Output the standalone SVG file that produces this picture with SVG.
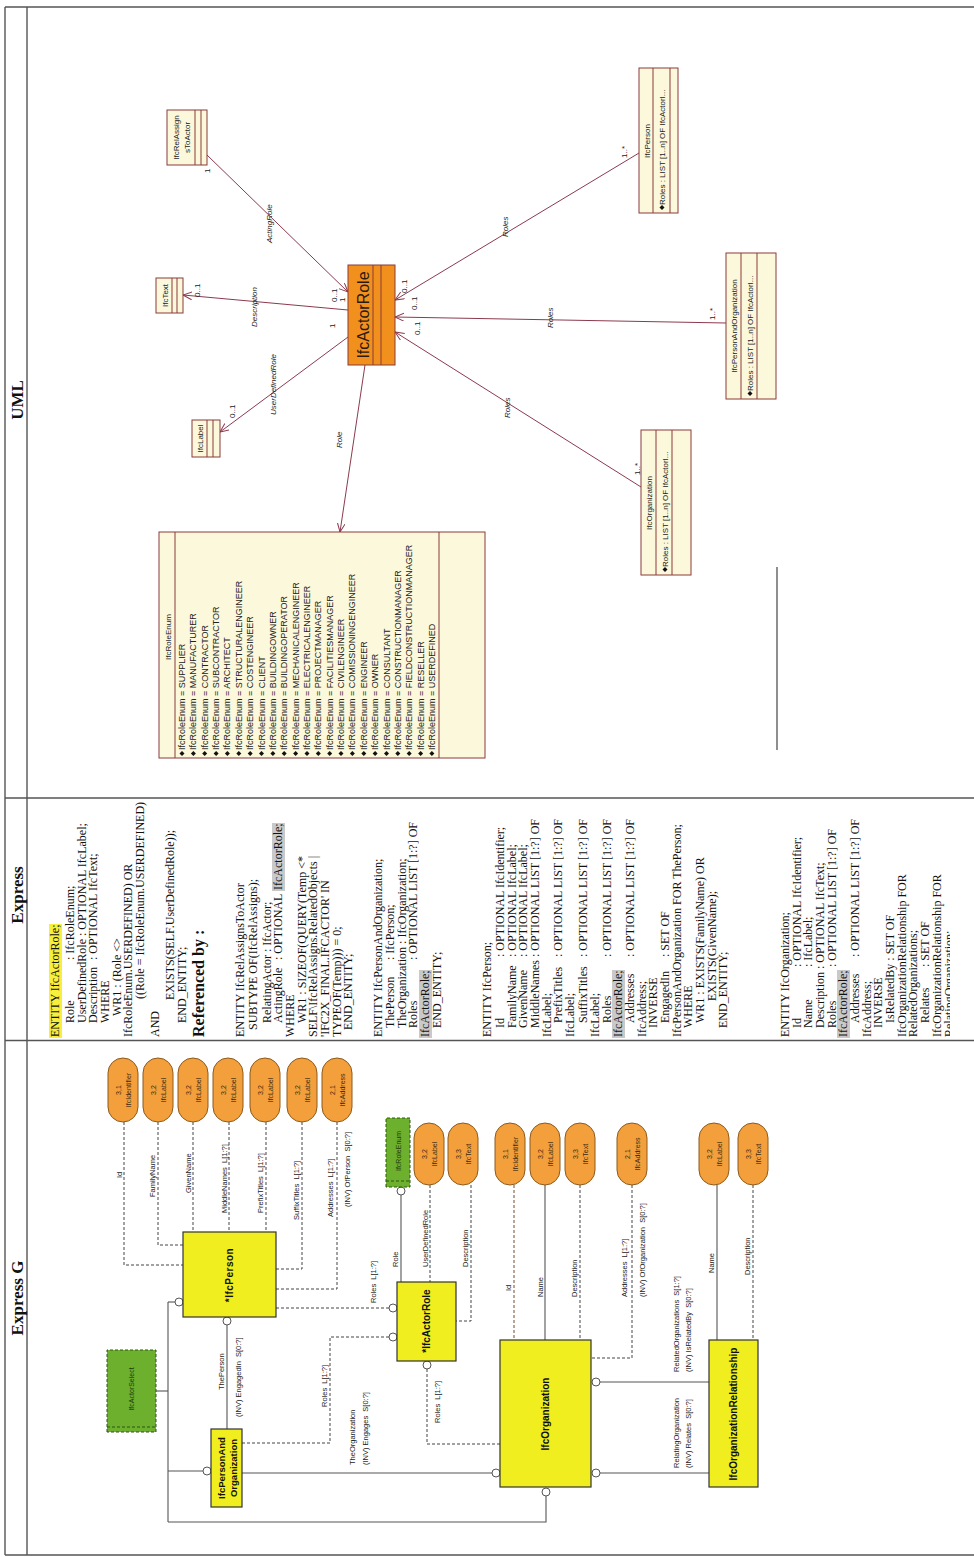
<svg xmlns="http://www.w3.org/2000/svg" xmlns:xlink="http://www.w3.org/1999/xlink" width="974" height="1557" viewBox="0 0 974 1557">
<style>
.frame{stroke:#555;stroke-width:1.4;fill:none}
.hdr{font-family:"Liberation Serif",serif;font-weight:bold;font-size:17px;text-anchor:middle;fill:#111}
.ex{font-family:"Liberation Serif",serif;font-size:12px;fill:#111}
.ref{font-size:16px;font-weight:bold}
.hl{fill:#f6f03c}
.hg{fill:#c9c9c9}
.ov{fill:#f3a03c;stroke:#8c5a1c;stroke-width:1}
.ovt{font-family:"Liberation Sans",Arial,sans-serif;font-size:7px;text-anchor:middle;fill:#3a2a10}
.eb{fill:#f0ee1e;stroke:#333;stroke-width:1.2}
.ebt{font-family:"Liberation Sans",Arial,sans-serif;font-size:10px;font-weight:bold;text-anchor:middle;fill:#111}
.gb{fill:#6db02e;stroke:#2e5512;stroke-width:1;stroke-dasharray:3 2}
.gbi{fill:none;stroke:#2e5512;stroke-width:1;stroke-dasharray:3 2}
.gbt{font-family:"Liberation Sans",Arial,sans-serif;font-size:7px;text-anchor:middle;fill:#1e3a08}
.sl{fill:none;stroke:#555;stroke-width:1.1}
.dl{fill:none;stroke:#444;stroke-width:1;stroke-dasharray:3 2}
.oc{fill:#fff;stroke:#555;stroke-width:1}
.lb{font-family:"Liberation Sans",Arial,sans-serif;font-size:7.5px;fill:#222}
.uc{fill:#fcf8dc;stroke:#8b3a3a;stroke-width:1}
.ua{fill:#f2901e;stroke:#8b3a3a;stroke-width:1}
.uln{stroke:#8b3a3a;stroke-width:1}
.ul{fill:none;stroke:#8b3a4e;stroke-width:1;marker-end:url(#oa)}
.ut{font-family:"Liberation Sans",Arial,sans-serif;font-size:8px;fill:#222}
.uet{font-family:"Liberation Sans",Arial,sans-serif;font-size:9px;fill:#222}
.utc{text-anchor:middle}
.ui{font-style:italic}
</style>
<defs>
<marker id="oa" markerWidth="11" markerHeight="10" refX="9" refY="4" orient="auto" markerUnits="userSpaceOnUse">
<path d="M0,0 L9,4 L0,8" fill="none" stroke="#8b3a4e" stroke-width="1"/>
</marker>
<path id="dia" d="M0,0 L2.5,-2.5 L5,0 L2.5,2.5Z" fill="#111"/>
<clipPath id="exclip"><rect x="517" y="27" width="242" height="923"/></clipPath>
</defs>
<rect x="0" y="0" width="974" height="1557" fill="#fff"/>
<g transform="translate(0,1557) rotate(-90)">

<g id="frame">
<line class="frame" x1="2" y1="5" x2="1550" y2="5"/>
<line class="frame" x1="2" y1="27" x2="1550" y2="27"/>
<line class="frame" x1="2" y1="5" x2="2" y2="974"/>
<line class="frame" x1="1550" y1="5" x2="1550" y2="974"/>
<line class="frame" x1="516.5" y1="5" x2="516.5" y2="974"/>
<line class="frame" x1="759" y1="5" x2="759" y2="974"/>
<text class="hdr" x="259" y="23">Express G</text>
<text class="hdr" x="662" y="23">Express</text>
<text class="hdr" x="1157" y="23">UML</text>
</g>

<!-- ================= EXPRESS G ================= -->
<g id="eg-connectors">
<path class="dl" d="M435,124 H292 V183"/>
<path class="dl" d="M435,158 H312 V183"/>
<path class="dl" d="M435,193 H325"/>
<path class="dl" d="M435,229 H325"/>
<path class="dl" d="M435,266 H325"/>
<path class="dl" d="M435,302 H288 V276"/>
<path class="dl" d="M435,337 H268 V276"/>
<path class="dl" d="M249,276 V389"/>
<circle class="oc" cx="249" cy="393" r="4"/>
<path class="dl" d="M114,242 V330 H220 V389"/>
<circle class="oc" cx="220" cy="393" r="4"/>
<path class="sl" d="M128,227 H232"/>
<circle class="oc" cx="236" cy="227" r="4"/>
<path class="sl" d="M84,242 V492"/>
<circle class="oc" cx="84" cy="496" r="4"/>
<path class="sl" d="M35,168 H255"/>
<path class="sl" d="M166,156 V168"/>
<path class="sl" d="M255,168 V175"/>
<circle class="oc" cx="255" cy="179" r="4"/>
<path class="sl" d="M86,168 V203"/>
<circle class="oc" cx="86" cy="207" r="4"/>
<path class="sl" d="M35,168 V546 H61"/>
<circle class="oc" cx="65" cy="546" r="4"/>
<path class="sl" d="M275,401 H362"/>
<circle class="oc" cx="366" cy="401" r="4"/>
<path class="dl" d="M372,430 H275"/>
<path class="dl" d="M372,471 H236 V456"/>
<circle class="oc" cx="192" cy="427" r="4"/>
<path class="dl" d="M188,427 H113 V500"/>
<path class="dl" d="M372,514 H217" style="stroke:#7a4a2a"/>
<path class="sl" d="M372,545 H217"/>
<path class="dl" d="M372,580 H217"/>
<path class="dl" d="M372,632 H199 V591"/>
<circle class="oc" cx="175" cy="596" r="4"/>
<path class="sl" d="M175,600 V709"/>
<circle class="oc" cx="84" cy="596" r="4"/>
<path class="sl" d="M84,600 V709"/>
<path class="sl" d="M372,717 H217"/>
<path class="dl" d="M372,753 H217"/>
</g>

<g id="eg-labels">
<text class="lb" x="379" y="122">Id</text>
<text class="lb" x="360" y="155">FamilyName</text>
<text class="lb" x="364" y="191">GivenName</text>
<text class="lb" x="344" y="227">MiddleNames&#160; L[1:?]</text>
<text class="lb" x="344" y="263">PrefixTitles&#160; L[1:?]</text>
<text class="lb" x="337" y="299">SuffixTitles&#160; L[1:?]</text>
<text class="lb" x="340" y="333">Addresses&#160; L[1:?]</text>
<text class="lb" x="350" y="350">(INV) OfPerson&#160; S[0:?]</text>
<text class="lb" x="254" y="376">Roles&#160; L[1:?]</text>
<text class="lb" x="150" y="327">Roles&#160; L[1:?]</text>
<text class="lb" x="167" y="224">ThePerson</text>
<text class="lb" x="140" y="241">(INV) EngagedIn&#160; S[0:?]</text>
<text class="lb" x="92" y="355">TheOrganization</text>
<text class="lb" x="92" y="368">(INV) Engages&#160; S[0:?]</text>
<text class="lb" x="290" y="398">Role</text>
<text class="lb" x="290" y="428">UserDefinedRole</text>
<text class="lb" x="290" y="468">Description</text>
<text class="lb" x="134" y="440">Roles&#160; L[1:?]</text>
<text class="lb" x="266" y="511">Id</text>
<text class="lb" x="260" y="543">Name</text>
<text class="lb" x="260" y="577">Description</text>
<text class="lb" x="260" y="627">Addresses&#160; L[1:?]</text>
<text class="lb" x="260" y="645">(INV) OfOrganization&#160; S[0:?]</text>
<text class="lb" x="185" y="679">RelatedOrganizations&#160; S[1:?]</text>
<text class="lb" x="185" y="691">(INV) IsRelatedBy&#160; S[0:?]</text>
<text class="lb" x="89" y="679">RelatingOrganization</text>
<text class="lb" x="89" y="691">(INV) Relates&#160; S[0:?]</text>
<text class="lb" x="284" y="714">Name</text>
<text class="lb" x="282" y="750">Description</text>
</g>

<g id="eg-IfcPerson"><rect class="eb" x="240" y="183" width="85" height="93"/><text class="ebt" x="282" y="233" letter-spacing="0.5">*IfcPerson</text></g>
<g id="eg-IfcPersonAndOrganization"><rect class="eb" x="50" y="211" width="78" height="31"/><text class="ebt" x="89" y="225" style="font-size:9.5px">IfcPersonAnd</text><text class="ebt" x="89" y="237" style="font-size:9.5px">Organization</text></g>
<g id="eg-IfcActorSelect"><rect class="gb" x="125" y="107" width="82" height="49"/><line class="gbi" x1="130" y1="107" x2="130" y2="156"/><text class="gbt" x="168" y="134">IfcActorSelect</text></g>
<g id="eg-IfcActorRole"><rect class="eb" x="196" y="397" width="79" height="59"/><text class="ebt" x="236" y="430">*IfcActorRole</text></g>
<g id="eg-IfcOrganization"><rect class="eb" x="70" y="500" width="147" height="91"/><text class="ebt" x="143" y="549">IfcOrganization</text></g>
<g id="eg-IfcOrganizationRelationship"><rect class="eb" x="70" y="709" width="147" height="49"/><text class="ebt" x="143" y="737">IfcOrganizationRelationship</text></g>
<g id="eg-IfcRoleEnum"><rect class="gb" x="370" y="386" width="69" height="24"/><line class="gbi" x1="376" y1="386" x2="376" y2="410"/><text class="gbt" x="406" y="401">IfcRoleEnum</text></g>

<g id="eg-p-Id"><rect class="ov" x="435" y="108" width="64" height="30" rx="15"/><text class="ovt" x="467" y="121">3,1</text><text class="ovt" x="467" y="131">IfcIdentifier</text></g>
<g id="eg-p-FamilyName"><rect class="ov" x="435" y="143" width="64" height="30" rx="15"/><text class="ovt" x="467" y="156">3,2</text><text class="ovt" x="467" y="166">IfcLabel</text></g>
<g id="eg-p-GivenName"><rect class="ov" x="435" y="178" width="64" height="30" rx="15"/><text class="ovt" x="467" y="191">3,2</text><text class="ovt" x="467" y="201">IfcLabel</text></g>
<g id="eg-p-MiddleNames"><rect class="ov" x="435" y="213" width="64" height="30" rx="15"/><text class="ovt" x="467" y="226">3,2</text><text class="ovt" x="467" y="236">IfcLabel</text></g>
<g id="eg-p-PrefixTitles"><rect class="ov" x="435" y="250" width="64" height="30" rx="15"/><text class="ovt" x="467" y="263">3,2</text><text class="ovt" x="467" y="273">IfcLabel</text></g>
<g id="eg-p-SuffixTitles"><rect class="ov" x="435" y="287" width="64" height="30" rx="15"/><text class="ovt" x="467" y="300">3,2</text><text class="ovt" x="467" y="310">IfcLabel</text></g>
<g id="eg-p-Addresses"><rect class="ov" x="435" y="322" width="64" height="30" rx="15"/><text class="ovt" x="467" y="335">2,1</text><text class="ovt" x="467" y="345">IfcAddress</text></g>

<g id="eg-ar-UserDefinedRole"><rect class="ov" x="372" y="414" width="62" height="30" rx="15"/><text class="ovt" x="403" y="427">3,2</text><text class="ovt" x="403" y="437">IfcLabel</text></g>
<g id="eg-ar-Description"><rect class="ov" x="372" y="448" width="62" height="30" rx="15"/><text class="ovt" x="403" y="461">3,3</text><text class="ovt" x="403" y="471">IfcText</text></g>
<g id="eg-o-Id"><rect class="ov" x="372" y="495" width="62" height="30" rx="15"/><text class="ovt" x="403" y="508">3,1</text><text class="ovt" x="403" y="518">IfcIdentifier</text></g>
<g id="eg-o-Name"><rect class="ov" x="372" y="530" width="62" height="30" rx="15"/><text class="ovt" x="403" y="543">3,2</text><text class="ovt" x="403" y="553">IfcLabel</text></g>
<g id="eg-o-Description"><rect class="ov" x="372" y="565" width="62" height="30" rx="15"/><text class="ovt" x="403" y="578">3,3</text><text class="ovt" x="403" y="588">IfcText</text></g>
<g id="eg-o-Addresses"><rect class="ov" x="372" y="617" width="62" height="30" rx="15"/><text class="ovt" x="403" y="630">2,1</text><text class="ovt" x="403" y="640">IfcAddress</text></g>
<g id="eg-or-Name"><rect class="ov" x="372" y="699" width="62" height="30" rx="15"/><text class="ovt" x="403" y="712">3,2</text><text class="ovt" x="403" y="722">IfcLabel</text></g>
<g id="eg-or-Description"><rect class="ov" x="372" y="738" width="62" height="30" rx="15"/><text class="ovt" x="403" y="751">3,3</text><text class="ovt" x="403" y="761">IfcText</text></g>

<!-- ================= EXPRESS ================= -->
<g id="express-text" clip-path="url(#exclip)">
<rect class="hl" x="519" y="49" width="114" height="13"/>
<text class="ex" x="520" y="59">ENTITY IfcActorRole;</text>
<text class="ex" y="74"><tspan x="534">Role</tspan><tspan x="597">: IfcRoleEnum;</tspan></text>
<text class="ex" x="534" y="86">UserDefinedRole : OPTIONAL IfcLabel;</text>
<text class="ex" y="97"><tspan x="534">Description</tspan><tspan x="597">: OPTIONAL IfcText;</tspan></text>
<text class="ex" x="534" y="109">WHERE</text>
<text class="ex" x="541" y="121">WR1 : (Role &lt;&gt;</text>
<text class="ex" x="520" y="132">IfcRoleEnum.USERDEFINED) OR</text>
<text class="ex" x="558" y="144">((Role = IfcRoleEnum.USERDEFINED)</text>
<text class="ex" x="520" y="159">AND</text>
<text class="ex" x="557" y="174">EXISTS(SELF.UserDefinedRole));</text>
<text class="ex" x="534" y="186">END_ENTITY;</text>
<text class="ex ref" x="520" y="204">Referenced by :</text>

<text class="ex" x="520" y="244">ENTITY IfcRelAssignsToActor</text>
<text class="ex" x="527" y="257">SUBTYPE OF(IfcRelAssigns);</text>
<text class="ex" x="534" y="271">RelatingActor : IfcActor;</text>
<rect class="hg" x="666" y="272" width="68" height="13"/>
<text class="ex" y="282"><tspan x="534">ActingRole</tspan><tspan x="597">: OPTIONAL</tspan><tspan x="667">IfcActorRole;</tspan></text>
<text class="ex" x="520" y="294">WHERE</text>
<text class="ex" x="534" y="306">WR1 : SIZEOF(QUERY(Temp &lt;*</text>
<text class="ex" x="520" y="317">SELF\IfcRelAssigns.RelatedObjects |</text>
<text class="ex" x="520" y="329">'IFC2X_FINAL.IFCACTOR' IN</text>
<text class="ex" x="520" y="341">TYPEOF(Temp))) = 0;</text>
<text class="ex" x="527" y="352">END_ENTITY;</text>

<text class="ex" x="520" y="382">ENTITY IfcPersonAndOrganization;</text>
<text class="ex" y="394"><tspan x="529">ThePerson</tspan><tspan x="597">: IfcPerson;</tspan></text>
<text class="ex" x="529" y="406">TheOrganization : IfcOrganization;</text>
<text class="ex" y="417"><tspan x="529">Roles</tspan><tspan x="597">: OPTIONAL LIST [1:?] OF</tspan></text>
<rect class="hg" x="519" y="419" width="68" height="13"/>
<text class="ex" x="520" y="429">IfcActorRole;</text>
<text class="ex" x="529" y="441">END_ENTITY;</text>

<text class="ex" x="520" y="491">ENTITY IfcPerson;</text>
<text class="ex" y="504"><tspan x="529">Id</tspan><tspan x="600">: OPTIONAL IfcIdentifier;</tspan></text>
<text class="ex" y="516"><tspan x="529">FamilyName</tspan><tspan x="600">: OPTIONAL IfcLabel;</tspan></text>
<text class="ex" y="527"><tspan x="529">GivenName</tspan><tspan x="600">: OPTIONAL IfcLabel;</tspan></text>
<text class="ex" y="539"><tspan x="529">MiddleNames</tspan><tspan x="600">: OPTIONAL LIST [1:?] OF</tspan></text>
<text class="ex" x="520" y="551">IfcLabel;</text>
<text class="ex" y="562"><tspan x="534">PrefixTitles</tspan><tspan x="600">: OPTIONAL LIST [1:?] OF</tspan></text>
<text class="ex" x="520" y="574">IfcLabel;</text>
<text class="ex" y="587"><tspan x="534">SuffixTitles</tspan><tspan x="600">: OPTIONAL LIST [1:?] OF</tspan></text>
<text class="ex" x="520" y="599">IfcLabel;</text>
<text class="ex" y="611"><tspan x="534">Roles</tspan><tspan x="600">: OPTIONAL LIST [1:?] OF</tspan></text>
<rect class="hg" x="519" y="612" width="68" height="13"/>
<text class="ex" x="520" y="622">IfcActorRole;</text>
<text class="ex" y="634"><tspan x="534">Addresses</tspan><tspan x="600">: OPTIONAL LIST [1:?] OF</tspan></text>
<text class="ex" x="520" y="646">IfcAddress;</text>
<text class="ex" x="529" y="657">INVERSE</text>
<text class="ex" y="669"><tspan x="534">EngagedIn</tspan><tspan x="600">: SET OF</tspan></text>
<text class="ex" x="520" y="681">IfcPersonAndOrganization FOR ThePerson;</text>
<text class="ex" x="529" y="692">WHERE</text>
<text class="ex" x="534" y="704">WR1 : EXISTS(FamilyName) OR</text>
<text class="ex" x="556" y="716">EXISTS(GivenName);</text>
<text class="ex" x="529" y="727">END_ENTITY;</text>

<text class="ex" x="520" y="789">ENTITY IfcOrganization;</text>
<text class="ex" y="801"><tspan x="529">Id</tspan><tspan x="590">: OPTIONAL IfcIdentifier;</tspan></text>
<text class="ex" y="812"><tspan x="529">Name</tspan><tspan x="590">: IfcLabel;</tspan></text>
<text class="ex" x="529" y="824">Description : OPTIONAL IfcText;</text>
<text class="ex" y="836"><tspan x="529">Roles</tspan><tspan x="590">: OPTIONAL LIST [1:?] OF</tspan></text>
<rect class="hg" x="519" y="837" width="68" height="13"/>
<text class="ex" x="520" y="847">IfcActorRole;</text>
<text class="ex" y="859"><tspan x="534">Addresses</tspan><tspan x="600">: OPTIONAL LIST [1:?] OF</tspan></text>
<text class="ex" x="520" y="871">IfcAddress;</text>
<text class="ex" x="529" y="882">INVERSE</text>
<text class="ex" x="534" y="894">IsRelatedBy : SET OF</text>
<text class="ex" x="520" y="906">IfcOrganizationRelationship FOR</text>
<text class="ex" x="520" y="917">RelatedOrganizations;</text>
<text class="ex" y="929"><tspan x="534">Relates</tspan><tspan x="590">: SET OF</tspan></text>
<text class="ex" x="520" y="941">IfcOrganizationRelationship FOR</text>
<text class="ex" x="520" y="953">RelatingOrganization;</text>
</g>

<!-- ================= UML ================= -->
<g id="uml-connectors">
<path class="ul" d="M1247,348 L1262,183"/>
<path class="ul" d="M1402,207 L1265,348"/>
<path class="ul" d="M1220,348 L1125,220"/>
<path class="ul" d="M1192,365 L1025,340"/>
<path class="ul" d="M1404,639 L1257,395"/>
<path class="ul" d="M1234,726 L1240,395"/>
<path class="ul" d="M1070,641 L1225,395"/>
<text class="ut ui" x="1314" y="272">ActingRole</text>
<text class="ut ui" x="1230" y="257">Description</text>
<text class="ut ui" x="1142" y="276">UserDefinedRole</text>
<text class="ut ui" x="1109" y="342">Role</text>
<text class="ut ui" x="1320" y="508">Roles</text>
<text class="ut ui" x="1229" y="553">Roles</text>
<text class="ut ui" x="1139" y="510">Roles</text>
<text class="ut" x="1384" y="210">1</text>
<text class="ut" x="1255" y="337">0..1</text>
<text class="ut" x="1255" y="345">1</text>
<text class="ut" x="1260" y="200">0..1</text>
<text class="ut" x="1229" y="335">1</text>
<text class="ut" x="1139" y="235">0..1</text>
<text class="ut" x="1264" y="407">0..1</text>
<text class="ut" x="1247" y="417">0..1</text>
<text class="ut" x="1222" y="420">0..1</text>
<text class="ut" x="1399" y="627">1..*</text>
<text class="ut" x="1237" y="715">1..*</text>
<text class="ut" x="1082" y="640">1..*</text>
</g>

<g id="uml-IfcActorRole"><rect class="ua" x="1192" y="348" width="100" height="47"/><line class="uln" x1="1192" y1="373" x2="1292" y2="373"/><line class="uln" x1="1192" y1="381" x2="1292" y2="381"/><text class="utc" x="1242" y="369" style="font-family:'Liberation Sans',Arial,sans-serif;font-size:16px;fill:#2a1a10">IfcActorRole</text></g>
<g id="uml-IfcText"><rect class="uc" x="1244" y="156" width="35" height="27"/><line class="uln" x1="1244" y1="172" x2="1279" y2="172"/><line class="uln" x1="1244" y1="177" x2="1279" y2="177"/><text class="ut utc" x="1261.5" y="168">IfcText</text></g>
<g id="uml-IfcLabel"><rect class="uc" x="1100" y="192" width="37" height="28"/><line class="uln" x1="1100" y1="207" x2="1137" y2="207"/><line class="uln" x1="1100" y1="213" x2="1137" y2="213"/><text class="ut utc" x="1118.5" y="203">IfcLabel</text></g>
<g id="uml-IfcRelAssignsToActor"><rect class="uc" x="1392" y="167" width="55" height="40"/><line class="uln" x1="1392" y1="195" x2="1447" y2="195"/><line class="uln" x1="1392" y1="201" x2="1447" y2="201"/><text class="ut utc" x="1419.5" y="179">IfcRelAssign</text><text class="ut utc" x="1419.5" y="190">sToActor</text></g>
<g id="uml-IfcPerson"><rect class="uc" x="1344" y="639" width="145" height="39"/><line class="uln" x1="1344" y1="653" x2="1489" y2="653"/><line class="uln" x1="1344" y1="670" x2="1489" y2="670"/><text class="ut utc" x="1416" y="650">IfcPerson</text><use href="#dia" x="1347" y="662"/><text class="ut" x="1352" y="665">Roles : LIST [1..n] OF IfcActorI...</text></g>
<g id="uml-IfcPersonAndOrganization"><rect class="uc" x="1158" y="726" width="146" height="50"/><line class="uln" x1="1158" y1="741" x2="1304" y2="741"/><line class="uln" x1="1158" y1="757" x2="1304" y2="757"/><text class="ut utc" x="1231" y="737">IfcPersonAndOrganization</text><use href="#dia" x="1161" y="750"/><text class="ut" x="1166" y="753">Roles : LIST [1..n] OF IfcActorI...</text></g>
<g id="uml-IfcOrganization"><rect class="uc" x="982" y="641" width="145" height="50"/><line class="uln" x1="982" y1="656" x2="1127" y2="656"/><line class="uln" x1="982" y1="672" x2="1127" y2="672"/><text class="ut utc" x="1054" y="652">IfcOrganization</text><use href="#dia" x="985" y="665"/><text class="ut" x="990" y="668">Roles : LIST [1..n] OF IfcActorI...</text></g>
<g id="uml-IfcRoleEnum"><rect class="uc" x="799" y="159" width="226" height="326"/><line class="uln" x1="799" y1="175" x2="1025" y2="175"/><line class="uln" x1="799" y1="439" x2="1025" y2="439"/><text class="ut utc" x="920" y="171">IfcRoleEnum</text>
<use href="#dia" x="801" y="182"/><text class="uet" x="807" y="185">IfcRoleEnum = SUPPLIER</text>
<use href="#dia" x="801" y="193.4"/><text class="uet" x="807" y="196.4">IfcRoleEnum = MANUFACTURER</text>
<use href="#dia" x="801" y="204.7"/><text class="uet" x="807" y="207.7">IfcRoleEnum = CONTRACTOR</text>
<use href="#dia" x="801" y="216.1"/><text class="uet" x="807" y="219.1">IfcRoleEnum = SUBCONTRACTOR</text>
<use href="#dia" x="801" y="227.4"/><text class="uet" x="807" y="230.4">IfcRoleEnum = ARCHITECT</text>
<use href="#dia" x="801" y="238.8"/><text class="uet" x="807" y="241.8">IfcRoleEnum = STRUCTURALENGINEER</text>
<use href="#dia" x="801" y="250.2"/><text class="uet" x="807" y="253.2">IfcRoleEnum = COSTENGINEER</text>
<use href="#dia" x="801" y="261.5"/><text class="uet" x="807" y="264.5">IfcRoleEnum = CLIENT</text>
<use href="#dia" x="801" y="272.9"/><text class="uet" x="807" y="275.9">IfcRoleEnum = BUILDINGOWNER</text>
<use href="#dia" x="801" y="284.2"/><text class="uet" x="807" y="287.2">IfcRoleEnum = BUILDINGOPERATOR</text>
<use href="#dia" x="801" y="295.6"/><text class="uet" x="807" y="298.6">IfcRoleEnum = MECHANICALENGINEER</text>
<use href="#dia" x="801" y="307"/><text class="uet" x="807" y="310">IfcRoleEnum = ELECTRICALENGINEER</text>
<use href="#dia" x="801" y="318.3"/><text class="uet" x="807" y="321.3">IfcRoleEnum = PROJECTMANAGER</text>
<use href="#dia" x="801" y="329.7"/><text class="uet" x="807" y="332.7">IfcRoleEnum = FACILITIESMANAGER</text>
<use href="#dia" x="801" y="341"/><text class="uet" x="807" y="344">IfcRoleEnum = CIVILENGINEER</text>
<use href="#dia" x="801" y="352.4"/><text class="uet" x="807" y="355.4">IfcRoleEnum = COMISSIONINGENGINEER</text>
<use href="#dia" x="801" y="363.8"/><text class="uet" x="807" y="366.8">IfcRoleEnum = ENGINEER</text>
<use href="#dia" x="801" y="375.1"/><text class="uet" x="807" y="378.1">IfcRoleEnum = OWNER</text>
<use href="#dia" x="801" y="386.5"/><text class="uet" x="807" y="389.5">IfcRoleEnum = CONSULTANT</text>
<use href="#dia" x="801" y="397.8"/><text class="uet" x="807" y="400.8">IfcRoleEnum = CONSTRUCTIONMANAGER</text>
<use href="#dia" x="801" y="409.2"/><text class="uet" x="807" y="412.2">IfcRoleEnum = FIELDCONSTRUCTIONMANAGER</text>
<use href="#dia" x="801" y="420.6"/><text class="uet" x="807" y="423.6">IfcRoleEnum = RESELLER</text>
<use href="#dia" x="801" y="431.9"/><text class="uet" x="807" y="434.9">IfcRoleEnum = USERDEFINED</text>
</g>
<g id="uml-stray-line"><line x1="807" y1="777" x2="990" y2="777" stroke="#444" stroke-width="1.2"/></g>
</g>
</svg>
